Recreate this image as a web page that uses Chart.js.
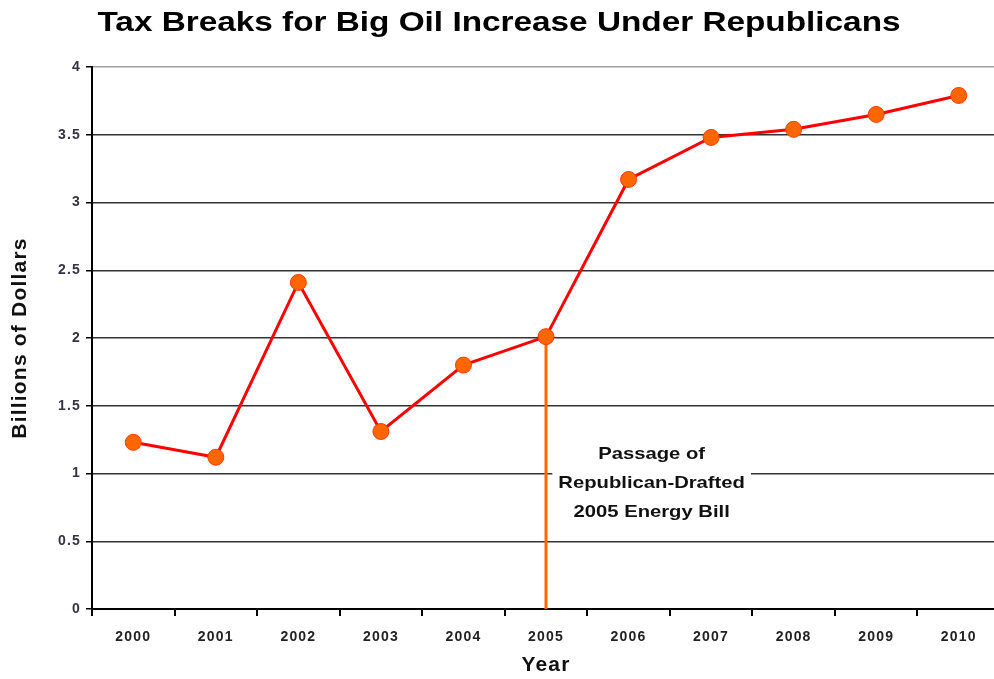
<!DOCTYPE html>
<html>
<head>
<meta charset="utf-8">
<script src="https://cdn.jsdelivr.net/npm/chart.js@4/dist/chart.umd.min.js"></script>
<style>
  html, body { margin: 0; padding: 0; background: #fff; overflow: hidden; }
  #chart { display: block; }
</style>
</head>
<body>
<canvas id="chart" width="1000" height="679"></canvas>
<script>
// values
const chartTitle = 'Tax Breaks for Big Oil Increase Under Republicans';
const years = ['2000', '2001', '2002', '2003', '2004', '2005', '2006', '2007', '2008', '2009', '2010'];
const taxBreaks = [1.23, 1.12, 2.41, 1.31, 1.80, 2.01, 3.17, 3.48, 3.54, 3.65, 3.79];
const yTicks = [0, 0.5, 1, 1.5, 2, 2.5, 3, 3.5, 4];
const markerYear = '2005';
const noteLines = ['Passage of', 'Republican-Drafted', '2005 Energy Bill'];

const FONT = 'Liberation Sans, Arial, sans-serif';
const STRETCH = 1.19; // source picture has wide lettering

// vertical marker from 0 up to the 2005 value
const markerLine = [
    { x: markerYear, y: 0 },
    { x: markerYear, y: taxBreaks[years.indexOf(markerYear)] }
];

// a little letter spacing for the axis text
const spacingPlugin = {
    id: 'spacing',
    beforeDraw(chart) { chart.ctx.letterSpacing = '1.2px'; },
    afterDraw(chart) { chart.ctx.letterSpacing = '0px'; }
};

// draw text stretched sideways, centred on x,y
function wideText(ctx, text, x, y) {
    ctx.save();
    ctx.translate(x, y);
    ctx.scale(STRETCH, 1);
    ctx.fillText(text, 0, 0);
    ctx.restore();
}

// text box next to the marker line
const notePlugin = {
    id: 'note',
    beforeDatasetsDraw(chart) {
        const ctx = chart.ctx;
        const x = chart.scales.x.getPixelForValue(6.28);
        const y = chart.scales.y.getPixelForValue(0.93);
        const lineH = 29;
        ctx.save();
        ctx.font = 'bold 17px ' + FONT;
        ctx.letterSpacing = '0px';
        let w = 0;
        noteLines.forEach(t => { w = Math.max(w, ctx.measureText(t).width * STRETCH); });
        ctx.fillStyle = '#fff';
        ctx.fillRect(x - w / 2 - 6, y - lineH * 1.5, w + 12, lineH * 3);
        ctx.fillStyle = '#111';
        ctx.textAlign = 'center';
        ctx.textBaseline = 'middle';
        noteLines.forEach((t, i) => {
            wideText(ctx, t, x, y + (i - 1) * lineH);
        });
        ctx.restore();
    }
};

// chart title
const titlePlugin = {
    id: 'bigTitle',
    afterDraw(chart) {
        const ctx = chart.ctx;
        ctx.save();
        ctx.font = 'bold 28px ' + FONT;
        ctx.letterSpacing = '0px';
        ctx.fillStyle = '#000';
        ctx.textAlign = 'center';
        ctx.textBaseline = 'middle';
        wideText(ctx, chartTitle, 499, 23);
        ctx.restore();
    }
};

const ctx = document.getElementById('chart').getContext('2d');
new Chart(ctx, {
    type: 'line',
    data: {
        labels: years,
        datasets: [{
            label: 'Tax breaks',
            data: taxBreaks,
            borderColor: '#ff0000',
            borderWidth: 3,
            pointRadius: 8,
            pointHoverRadius: 8,
            pointBackgroundColor: '#ff6600',
            pointBorderColor: '#ff3c00',
            pointBorderWidth: 1,
            tension: 0
        }, {
            label: 'Energy bill',
            data: markerLine,
            borderColor: '#ff6a00',
            borderWidth: 3,
            pointRadius: 0
        }]
    },
    options: {
        responsive: false,
        animation: false,
        devicePixelRatio: 1,
        layout: { autoPadding: false, padding: { top: 67, left: 0, right: 0, bottom: 0 } },
        plugins: {
            legend: { display: false },
            tooltip: { enabled: false },
            title: { display: false }
        },
        scales: {
            x: {
                type: 'category',
                offset: true,
                grid: {
                    display: true,
                    drawOnChartArea: false,
                    drawTicks: true,
                    tickLength: 7,
                    offset: true,
                    color: '#000',
                    lineWidth: 2
                },
                border: { color: '#000', width: 2 },
                ticks: {
                    color: '#222',
                    font: { family: FONT, size: 14, weight: 'bold' },
                    padding: 13,
                    maxRotation: 0,
                    autoSkip: false
                },
                title: {
                    display: true,
                    text: 'Year',
                    color: '#111',
                    font: { family: FONT, size: 21, weight: 'bold' },
                    padding: { top: 4, bottom: 1 }
                },
                afterFit: s => { s.height = 70; }
            },
            y: {
                min: 0,
                max: 4,
                afterBuildTicks: s => { s.ticks = yTicks.map(v => ({ value: v })); },
                grid: {
                    color: c => (c.tick && c.tick.value === 4 ? '#a0a0a0' : '#333'),
                    lineWidth: 1.5,
                    tickLength: 6,
                    tickColor: '#000'
                },
                border: { color: '#000', width: 2 },
                ticks: {
                    color: '#333344',
                    font: { family: FONT, size: 14, weight: 'bold' },
                    padding: 5,
                    callback: v => String(v)
                },
                title: {
                    display: true,
                    text: 'Billions of Dollars',
                    color: '#111',
                    font: { family: FONT, size: 21, weight: 'bold' },
                    padding: { top: 8, bottom: 0 }
                },
                afterFit: s => { s.width = 92; }
            }
        }
    },
    plugins: [spacingPlugin, notePlugin, titlePlugin]
});
</script>
</body>
</html>
